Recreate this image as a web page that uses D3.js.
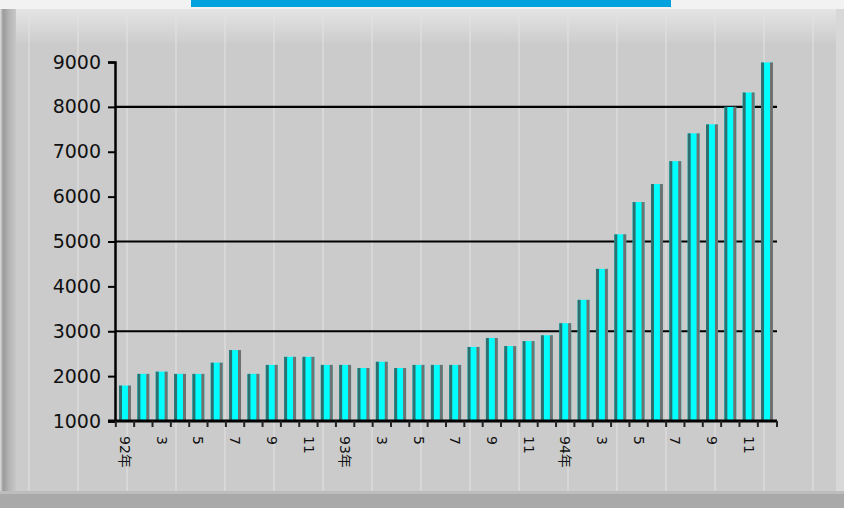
<!DOCTYPE html>
<html>
<head>
<meta charset="utf-8">
<script src="https://cdn.jsdelivr.net/npm/d3@7"></script>
<style>
  html, body { margin: 0; padding: 0; background: #cccccc; }
  svg { display: block; }
</style>
</head>
<body>
<svg id="chart" width="844" height="508"></svg>
<script>
// Monthly totals, three years of twelve months
const years = ["92年", "93年", "94年"];
const months = ["1", "2", "3", "4", "5", "6", "7", "8", "9", "10", "11", "12"];
const values = [
  1790, 2050, 2100, 2050, 2050, 2300, 2580, 2050, 2250, 2430, 2430, 2250,
  2250, 2180, 2320, 2180, 2250, 2250, 2250, 2650, 2850, 2670, 2780, 2910,
  3180, 3700, 4390, 5160, 5880, 6280, 6790, 7410, 7610, 8000, 8320, 8990
];
const yTicks = [1000, 2000, 3000, 4000, 5000, 6000, 7000, 8000, 9000];
const gridValues = [3000, 5000, 8000];

const categories = [];
years.forEach(yr => months.forEach(m => categories.push(yr + "|" + m)));
const rows = categories.map((c, i) => ({ key: c, year: c.split("|")[0], month: c.split("|")[1], value: values[i] }));

const svg = d3.select("#chart");
const W = 844, H = 508;

// ---- panel background ----
const defs = svg.append("defs");
const topGrad = defs.append("linearGradient").attr("id", "topGrad").attr("x1", 0).attr("y1", 0).attr("x2", 0).attr("y2", 1);
topGrad.append("stop").attr("offset", "0%").attr("stop-color", "#e4e4e4");
topGrad.append("stop").attr("offset", "100%").attr("stop-color", "#cdcdcd");
const leftGrad = defs.append("linearGradient").attr("id", "leftGrad").attr("x1", 0).attr("y1", 0).attr("x2", 1).attr("y2", 0);
leftGrad.append("stop").attr("offset", "0%").attr("stop-color", "#dedede");
leftGrad.append("stop").attr("offset", "20%").attr("stop-color", "#9a9a9a");
leftGrad.append("stop").attr("offset", "55%").attr("stop-color", "#b4b4b4");
leftGrad.append("stop").attr("offset", "100%").attr("stop-color", "#c8c8c8");

svg.append("rect").attr("width", W).attr("height", H).attr("fill", "#cbcbcb");
svg.append("rect").attr("x", 0).attr("y", 0).attr("width", W).attr("height", 9).attr("fill", "#f2f2f2");
svg.append("rect").attr("x", 0).attr("y", 9).attr("width", W).attr("height", 34).attr("fill", "url(#topGrad)");

// faint vertical streaks across the panel
const streaks = d3.range(28, W, 49);
svg.append("g").selectAll("rect").data(streaks).join("rect")
  .attr("x", d => d).attr("y", 9).attr("width", 2).attr("height", 482)
  .attr("fill", "#e2e2e2").attr("opacity", 0.55);

svg.append("rect").attr("x", 0).attr("y", 9).attr("width", 16).attr("height", H - 9).attr("fill", "url(#leftGrad)");
svg.append("rect").attr("x", 0).attr("y", 491).attr("width", W).attr("height", 17).attr("fill", "#a9a9a9");
svg.append("rect").attr("x", 0).attr("y", 491).attr("width", W).attr("height", 3).attr("fill", "#bdbdbd");
svg.append("rect").attr("x", W - 8).attr("y", 9).attr("width", 8).attr("height", 482).attr("fill", "#d8d8d8");

// title strip
svg.append("rect").attr("x", 191).attr("y", 0).attr("width", 480).attr("height", 7).attr("fill", "#00a3dd");

// ---- scales ----
const x = d3.scaleBand().domain(categories).range([115, 777]).paddingInner(0.35).paddingOuter(0.22);
const y = d3.scaleLinear().domain([1000, 9000]).range([421, 62]);

// horizontal reference lines
svg.append("g").selectAll("line").data(gridValues).join("line")
  .attr("x1", 115).attr("x2", 777)
  .attr("y1", d => y(d)).attr("y2", d => y(d))
  .attr("stroke", "#000").attr("stroke-width", 2.2);

// ---- bars ----
const bars = svg.append("g").selectAll("g").data(rows).join("g")
  .attr("transform", d => `translate(${x(d.key)},0)`);
const bw = x.bandwidth();
bars.append("rect")
  .attr("x", 0).attr("y", d => y(d.value))
  .attr("width", bw).attr("height", d => y(1000) - y(d.value))
  .attr("fill", "#00ffff");
bars.append("rect")
  .attr("x", 0).attr("y", d => y(d.value))
  .attr("width", 3).attr("height", d => y(1000) - y(d.value))
  .attr("fill", "#2e7070");
bars.append("rect")
  .attr("x", bw - 3).attr("y", d => y(d.value))
  .attr("width", 3).attr("height", d => y(1000) - y(d.value))
  .attr("fill", "#707070");

// ---- axes ----
const yAxis = d3.axisLeft(y).tickValues(yTicks).tickSize(7).tickPadding(7).tickFormat(d3.format("d"));
const gy = svg.append("g").attr("transform", "translate(115,0)").call(yAxis);
gy.select(".domain").attr("stroke", "#000").attr("stroke-width", 2.5);
gy.selectAll(".tick line").attr("stroke", "#000").attr("stroke-width", 2);
gy.selectAll(".tick text")
  .attr("font-family", "DejaVu Sans, sans-serif").attr("font-size", 19)
  .attr("fill", "#111");

// x axis line
svg.append("line").attr("x1", 108).attr("x2", 777).attr("y1", 421).attr("y2", 421)
  .attr("stroke", "#000").attr("stroke-width", 3);

// tick marks at the category boundaries
const step = x.step();
const boundaries = categories.map((c, i) => x(c) - x.paddingInner() * step / 2);
boundaries.push(777);
svg.append("g").selectAll("line").data(boundaries).join("line")
  .attr("x1", d => d).attr("x2", d => d)
  .attr("y1", 421).attr("y2", 427)
  .attr("stroke", "#222").attr("stroke-width", 2);

// rotated labels: year at January, month number on odd months
const labelled = rows.filter(d => (+d.month) % 2 === 1);
svg.append("g").selectAll("text").data(labelled).join("text")
  .attr("transform", d => `translate(${x(d.key) + bw / 2},436) rotate(90)`)
  .attr("dy", "0.35em")
  .attr("text-anchor", "start")
  .attr("font-family", "DejaVu Sans, 'Noto Sans CJK JP', sans-serif")
  .attr("font-size", 14)
  .attr("fill", "#111")
  .text(d => d.month === "1" ? d.year : d.month);
</script>
</body>
</html>
